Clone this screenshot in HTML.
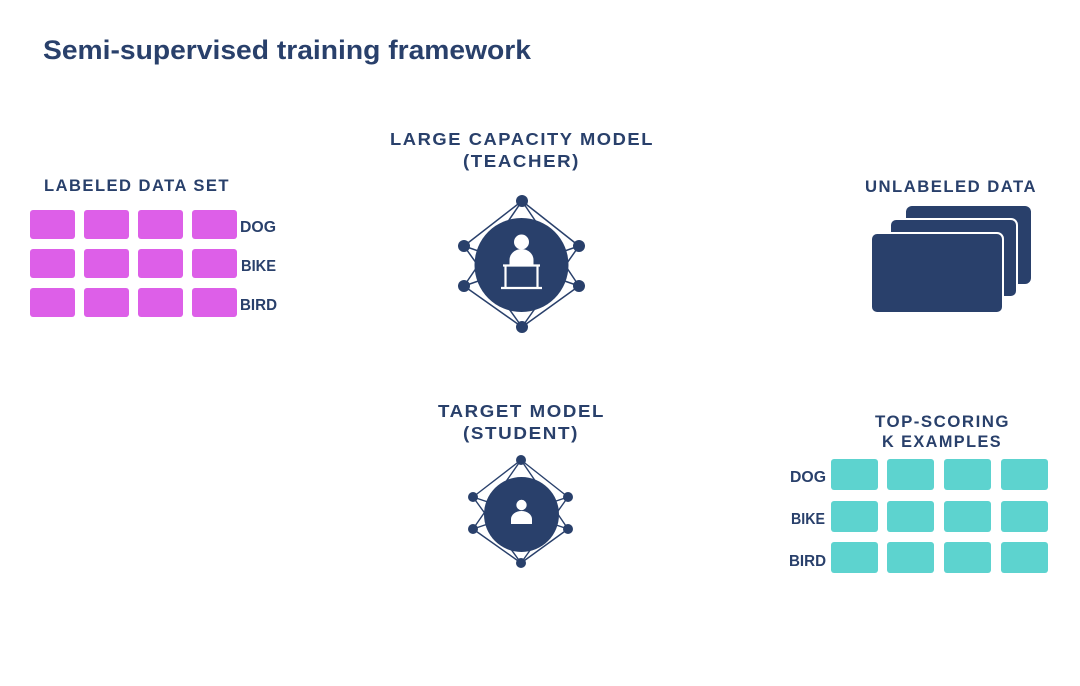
<!DOCTYPE html>
<html>
<head>
<meta charset="utf-8">
<style>
html,body{margin:0;padding:0;background:#fff;}
svg{display:block;}
text{font-family:"Liberation Sans",Arial,sans-serif;font-weight:bold;fill:#29406b;}
.lab{letter-spacing:1.5px;}
</style>
</head>
<body>
<svg width="1080" height="686" viewBox="0 0 1080 686" xmlns="http://www.w3.org/2000/svg">
<rect width="1080" height="686" fill="#ffffff"/>

<!-- Title -->
<text x="43" y="59" font-size="27" textLength="488" lengthAdjust="spacingAndGlyphs">Semi-supervised training framework</text>

<!-- Labeled data set -->
<text class="lab" x="44" y="191" font-size="17" textLength="186" lengthAdjust="spacingAndGlyphs">LABELED DATA SET</text>
<g fill="#dd5fe8">
  <rect x="30" y="210" width="45" height="29" rx="3"/>
  <rect x="84" y="210" width="45" height="29" rx="3"/>
  <rect x="138" y="210" width="45" height="29" rx="3"/>
  <rect x="192" y="210" width="45" height="29" rx="3"/>
  <rect x="30" y="249" width="45" height="29" rx="3"/>
  <rect x="84" y="249" width="45" height="29" rx="3"/>
  <rect x="138" y="249" width="45" height="29" rx="3"/>
  <rect x="192" y="249" width="45" height="29" rx="3"/>
  <rect x="30" y="288" width="45" height="29" rx="3"/>
  <rect x="84" y="288" width="45" height="29" rx="3"/>
  <rect x="138" y="288" width="45" height="29" rx="3"/>
  <rect x="192" y="288" width="45" height="29" rx="3"/>
</g>
<text x="240" y="232" font-size="16" textLength="36" lengthAdjust="spacingAndGlyphs">DOG</text>
<text x="241" y="271" font-size="16" textLength="35" lengthAdjust="spacingAndGlyphs">BIKE</text>
<text x="240" y="310" font-size="16" textLength="37" lengthAdjust="spacingAndGlyphs">BIRD</text>

<!-- Teacher -->
<text class="lab" x="390" y="145" font-size="17.5" textLength="264" lengthAdjust="spacingAndGlyphs">LARGE CAPACITY MODEL</text>
<text class="lab" x="463" y="167" font-size="17.5" textLength="117" lengthAdjust="spacingAndGlyphs">(TEACHER)</text>
<g stroke="#29406b" stroke-width="1.5" fill="none">
  <line x1="522" y1="201" x2="464" y2="246"/>
  <line x1="522" y1="201" x2="579" y2="246"/>
  <line x1="522" y1="201" x2="464" y2="286"/>
  <line x1="522" y1="201" x2="579" y2="286"/>
  <line x1="464" y1="246" x2="579" y2="286"/>
  <line x1="464" y1="246" x2="522" y2="327"/>
  <line x1="579" y1="246" x2="464" y2="286"/>
  <line x1="579" y1="246" x2="522" y2="327"/>
  <line x1="464" y1="286" x2="522" y2="327"/>
  <line x1="579" y1="286" x2="522" y2="327"/>
</g>
<g fill="#29406b">
  <circle cx="522" cy="201" r="6"/>
  <circle cx="464" cy="246" r="6"/>
  <circle cx="579" cy="246" r="6"/>
  <circle cx="464" cy="286" r="6"/>
  <circle cx="579" cy="286" r="6"/>
  <circle cx="522" cy="327" r="6"/>
  <circle cx="521.5" cy="265" r="47"/>
</g>
<!-- teacher icon -->
<g fill="#ffffff">
  <circle cx="521.5" cy="242" r="7.5"/>
  <path d="M509.5 265 L509.5 260 A12 11 0 0 1 533.5 260 L533.5 265 Z"/>
</g>
<g stroke="#ffffff" stroke-width="2.2" fill="none">
  <line x1="503" y1="265.5" x2="540" y2="265.5"/>
  <line x1="505.5" y1="265" x2="505.5" y2="288"/>
  <line x1="537.5" y1="265" x2="537.5" y2="288"/>
  <line x1="501" y1="288" x2="542" y2="288"/>
</g>

<!-- Unlabeled data -->
<text class="lab" x="865" y="192" font-size="17" textLength="172" lengthAdjust="spacingAndGlyphs">UNLABELED DATA</text>
<rect x="906" y="206" width="125" height="78" rx="6" fill="#29406b"/>
<rect x="890" y="219" width="127" height="78" rx="6" fill="#29406b" stroke="#ffffff" stroke-width="2"/>
<rect x="871" y="233" width="132" height="80" rx="6" fill="#29406b" stroke="#ffffff" stroke-width="2"/>

<!-- Student -->
<text class="lab" x="438" y="417" font-size="17.5" textLength="167" lengthAdjust="spacingAndGlyphs">TARGET MODEL</text>
<text class="lab" x="463" y="439" font-size="17.5" textLength="116" lengthAdjust="spacingAndGlyphs">(STUDENT)</text>
<g stroke="#29406b" stroke-width="1.4" fill="none">
  <line x1="521" y1="460" x2="473" y2="497"/>
  <line x1="521" y1="460" x2="568" y2="497"/>
  <line x1="521" y1="460" x2="473" y2="529"/>
  <line x1="521" y1="460" x2="568" y2="529"/>
  <line x1="473" y1="497" x2="568" y2="529"/>
  <line x1="473" y1="497" x2="521" y2="563"/>
  <line x1="568" y1="497" x2="473" y2="529"/>
  <line x1="568" y1="497" x2="521" y2="563"/>
  <line x1="473" y1="529" x2="521" y2="563"/>
  <line x1="568" y1="529" x2="521" y2="563"/>
</g>
<g fill="#29406b">
  <circle cx="521" cy="460" r="5"/>
  <circle cx="473" cy="497" r="5"/>
  <circle cx="568" cy="497" r="5"/>
  <circle cx="473" cy="529" r="5"/>
  <circle cx="568" cy="529" r="5"/>
  <circle cx="521" cy="563" r="5"/>
  <circle cx="521.5" cy="514.5" r="37.5"/>
</g>
<g fill="#ffffff">
  <circle cx="521.5" cy="505" r="5.2"/>
  <path d="M511 524 L511 519 A10.5 8 0 0 1 532 519 L532 524 Z"/>
</g>

<!-- Top-scoring K examples -->
<text class="lab" x="875" y="427" font-size="17" textLength="135" lengthAdjust="spacingAndGlyphs">TOP-SCORING</text>
<text class="lab" x="882" y="447" font-size="17" textLength="120" lengthAdjust="spacingAndGlyphs">K EXAMPLES</text>
<g fill="#5dd3cf">
  <rect x="831" y="459" width="47" height="31" rx="3"/>
  <rect x="887" y="459" width="47" height="31" rx="3"/>
  <rect x="944" y="459" width="47" height="31" rx="3"/>
  <rect x="1001" y="459" width="47" height="31" rx="3"/>
  <rect x="831" y="501" width="47" height="31" rx="3"/>
  <rect x="887" y="501" width="47" height="31" rx="3"/>
  <rect x="944" y="501" width="47" height="31" rx="3"/>
  <rect x="1001" y="501" width="47" height="31" rx="3"/>
  <rect x="831" y="542" width="47" height="31" rx="3"/>
  <rect x="887" y="542" width="47" height="31" rx="3"/>
  <rect x="944" y="542" width="47" height="31" rx="3"/>
  <rect x="1001" y="542" width="47" height="31" rx="3"/>
</g>
<text x="790" y="482" font-size="16" textLength="36" lengthAdjust="spacingAndGlyphs">DOG</text>
<text x="791" y="524" font-size="16" textLength="34" lengthAdjust="spacingAndGlyphs">BIKE</text>
<text x="789" y="566" font-size="16" textLength="37" lengthAdjust="spacingAndGlyphs">BIRD</text>
</svg>
</body>
</html>
